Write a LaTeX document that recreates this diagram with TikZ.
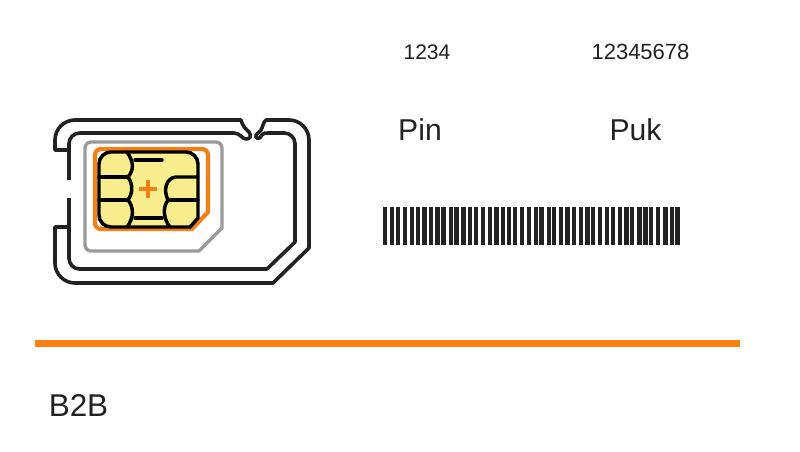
\documentclass[tikz,border=0pt]{standalone}
\usepackage{fontspec}
\setmainfont{Liberation Sans}
\definecolor{simorange}{HTML}{F57F17}
\definecolor{barorange}{HTML}{FF7F0F}
\definecolor{chipyellow}{HTML}{F9EE8E}
\definecolor{traygray}{HTML}{9A9A9A}
\definecolor{inkblack}{HTML}{222222}
\tikzset{
  simline/.style={draw=inkblack, line width=2.7pt, line join=round},
  chipline/.style={draw=black, line width=2.6pt, line cap=round},
  bigtext/.style={font=\fontsize{22.6}{25}\selectfont, text=inkblack, inner sep=0pt},
  smalltext/.style={font=\fontsize{15.8}{18}\selectfont, text=inkblack, inner sep=0pt}
}
\begin{document}
\begin{tikzpicture}[x=0.75pt,y=-0.75pt]
\useasboundingbox (0,0) rectangle (800,451);
% texts
\node[smalltext] (pincode) at (427,52) {1234};
\node[smalltext, font=\fontsize{16.5}{18}\selectfont] (pukcode) at (640.5,52) {12345678};
\node[bigtext] (pinlabel) at (420,130) {Pin};
\node[bigtext] (puklabel) at (635.5,130) {Puk};
\node[bigtext, font=\fontsize{23.6}{26}\selectfont] (tariff) at (78.5,406) {B2B};
% orange rule
\fill[barorange] (35,340) rectangle (740,346.5);
% barcode
\foreach \barx in {383,390,396,402.7,410,415.7,422.3,429,435.3,441.3,448.7,454.3,461.3,468,474,481,488,494.3,501,507,513,520,527,533.5,539.3,546.7,552,558.7,565.3,571.7,579,585.3,591,598,605,611,617.7,624.3,630,637.3,643.3,648.7,656,663.3,669.7,675.3}
  \fill[inkblack] (\barx,207) rectangle (\barx+4.3,245);
% outer card
\draw[simline] (69,150) -- (55,150) [rounded corners=15] -- (55,120) [sharp corners] -- (241,120)
  .. controls (243,127) and (246,129) .. (249,132)
  .. controls (252,136) and (250,139) .. (246,139)
  .. controls (242,139) and (240,133) .. (234,133)
  [rounded corners=8] -- (69,133) [sharp corners] -- (69,180);
\draw[simline] (69,227) -- (55,227) [rounded corners=15] -- (55,283) [sharp corners] -- (273,283) -- (309,248)
  [rounded corners=15] -- (309,120) [sharp corners] -- (266,120)
  .. controls (263,122) and (263,127) .. (261,130)
  .. controls (259,133) and (255,134) .. (256,137)
  .. controls (258,140) and (260,138) .. (262,135)
  .. controls (263,133) and (265,133) .. (268,133)
  [rounded corners=8] -- (295,133) [sharp corners] -- (295,242) -- (267,269)
  [rounded corners=8] -- (69,269) [sharp corners] -- (69,198);
% tray
\draw[traygray, line width=2.5pt, line join=round] (85,200) [rounded corners=4.5] -- (85,142) -- (222,142) [sharp corners] -- (222,228) -- (199,251) [rounded corners=4.5] -- (85,251) -- cycle;
\draw[simorange, line width=3.2pt, line join=round] (95,190) [rounded corners=4.5] -- (95,149) -- (208,149) [sharp corners] -- (208,212) -- (192,229) [rounded corners=4.5] -- (95,229) -- cycle;
% chip
\draw[chipline, fill=chipyellow] (99,190) [rounded corners=9] -- (99,152) -- (198,152) [sharp corners] -- (198,218) -- (190,227) [rounded corners=9] -- (99,227) -- cycle;
\draw[chipline] (127,152) .. controls (134,162) and (134,170) .. (128,177)
  .. controls (133,184) and (133,193) .. (128,200)
  .. controls (134,207) and (134,218) .. (127,227);
\draw[chipline] (99,177) -- (128,177);
\draw[chipline] (99,200) -- (128,200);
\draw[chipline] (198,177) -- (176,177) .. controls (166,178) and (163,190) .. (168,200)
  .. controls (162,208) and (164,220) .. (170,227);
\draw[chipline] (168,200) -- (198,200);
\draw[chipline] (135,160) -- (162,160);
\draw[chipline] (135,218) -- (162,218);
% plus
\draw[simorange, line width=2.4pt] (139,189) -- (157,189);
\draw[simorange, line width=2.4pt] (148,180) -- (148,198);
\end{tikzpicture}
\end{document}
